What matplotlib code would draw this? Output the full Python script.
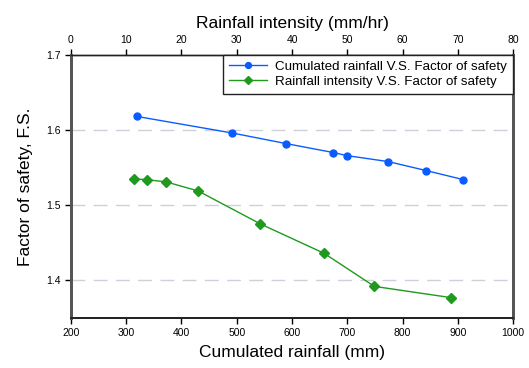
import numpy as np
import matplotlib
matplotlib.use("Agg")
import matplotlib.pyplot as plt

plt.rcParams['font.family'] = ['Liberation Sans', 'DejaVu Sans']

# cumulated rainfall (mm) vs factor of safety
cum_rain = [320, 492, 589, 675, 699, 774, 843, 910]
fs_cum = [1.618, 1.596, 1.582, 1.570, 1.566, 1.558, 1.546, 1.534]

# rainfall intensity (mm/hr) vs factor of safety
intensity = [11.4, 13.7, 17.2, 23.0, 34.3, 45.8, 54.9, 68.8]
fs_int = [1.535, 1.534, 1.531, 1.519, 1.475, 1.436, 1.392, 1.377]

x_ticks = [200, 300, 400, 500, 600, 700, 800, 900, 1000]
top_ticks = [0, 10, 20, 30, 40, 50, 60, 70, 80]
y_ticks = [1.4, 1.5, 1.6, 1.7]

blue = '#0a5cff'
green = '#1f9a1f'

fig = plt.figure(figsize=(5.29, 3.68), dpi=100)
ax = fig.add_axes([0.134, 0.136, 0.836, 0.715])
ax2 = ax.twiny()

for y in y_ticks[:-1]:
    ax.axhline(y, color='#d0d0dc', lw=1.0, dashes=(10, 6), zorder=0)

l1, = ax.plot(cum_rain, fs_cum, color=blue, lw=1.0, marker='o', ms=5,
              mfc=blue, mec=blue, label='Cumulated rainfall V.S. Factor of safety')
l2, = ax2.plot(intensity, fs_int, color=green, lw=1.0, marker='D', ms=4.8,
               mfc=green, mec=green, label='Rainfall intensity V.S. Factor of safety')

ax.set_xlim(200, 1000)
ax2.set_xlim(0, 80)
ax.set_ylim(1.35, 1.7)
ax.set_xticks(x_ticks)
ax2.set_xticks(top_ticks)
ax.set_yticks(y_ticks)
ax.set_yticklabels(['1.4', '1.5', '1.6', '1.7'])

ax.tick_params(axis='both', direction='out', length=4, width=1, labelsize=7.5, pad=3)
ax2.tick_params(axis='x', direction='out', length=4, width=1, labelsize=7.5, pad=3)

for a in (ax, ax2):
    a.spines['left'].set_color('#555555')
    a.spines['left'].set_linewidth(2)
    a.spines['right'].set_color('#555555')
    a.spines['right'].set_linewidth(2)
    a.spines['bottom'].set_color('#222222')
    a.spines['bottom'].set_linewidth(1.3)
    a.spines['top'].set_color('#222222')
    a.spines['top'].set_linewidth(1.0)

ax.set_xlabel('Cumulated rainfall (mm)', fontsize=12.5, labelpad=5)
ax2.set_xlabel('Rainfall intensity (mm/hr)', fontsize=12.5, labelpad=5)
ax.set_ylabel('Factor of safety, F.S.', fontsize=12.5, labelpad=10)

leg = ax2.legend(handles=[l1, l2], loc='upper right', borderaxespad=0,
                 fontsize=9.6, fancybox=False, framealpha=1, edgecolor='#222222',
                 handlelength=2.9, handletextpad=0.6, labelspacing=0.2,
                 borderpad=0.45, markerscale=0.85)
leg.get_frame().set_linewidth(1.0)

fig.savefig('out.png', dpi=100)
